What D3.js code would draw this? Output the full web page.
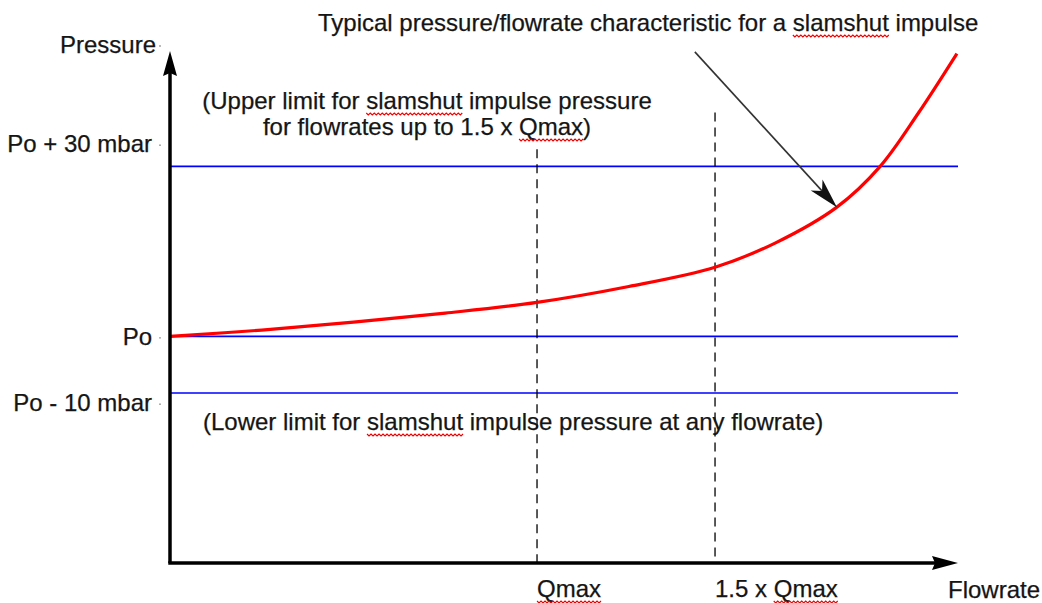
<!DOCTYPE html>
<html>
<head>
<meta charset="utf-8">
<script src="https://cdn.jsdelivr.net/npm/d3@7"></script>
<style>
  body { margin: 0; background: #fff; }
  text { font-family: "Liberation Sans", Arial, sans-serif; font-size: 24px; fill: #151515; stroke: #151515; stroke-width: 0.25px; }
</style>
</head>
<body>
<div id="fig"></div>
<script>
const width = 1042
const height = 603

// flowrate in units of Qmax, pressure in mbar relative to Po
const flow = [0, 0.25, 0.5, 0.75, 1.0, 1.25, 1.485, 1.65, 1.817, 1.935, 2.04, 2.144]
const pressure = [0, 1.1, 2.5, 4.1, 6.0, 8.8, 12.2, 16.5, 22.8, 30, 39.5, 49.9]

const limitValues = [30, 0, -10]
const yLabels = ['Po + 30 mbar', 'Po', 'Po - 10 mbar']
const yLabelValues = [34, 0, -11.7]

const qMarks = [1.0, 1.485]
const qLabels = ['Qmax', '1.5 x Qmax']
const dashTops = [33, 39.5]

const arrowFrom = [1.43, 50.2]
const arrowTo = 8 // index into curve

const x = d3.scaleLinear().domain([0, 2.147]).range([170, 958])
const y = d3.scaleLinear().domain([-40, 50]).range([563, 53])

const svg = d3.select('#fig').append('svg')
    .attr('width', width)
    .attr('height', height)

const x0 = x.range()[0], x1 = x.range()[1]
const y0 = y.range()[0], y1 = y.range()[1]

// blue limit lines
svg.selectAll('.limit')
   .data(limitValues)
   .enter().append('line')
   .attr('class', 'limit')
   .attr('x1', x0).attr('x2', x1)
   .attr('y1', d => y(d)).attr('y2', d => y(d))
   .attr('stroke', '#0000ff')
   .attr('stroke-width', 1.6)

// dashed flow markers
svg.selectAll('.qmark')
   .data(qMarks)
   .enter().append('line')
   .attr('x1', d => x(d)).attr('x2', d => x(d))
   .attr('y1', (d, i) => y(dashTops[i])).attr('y2', y0)
   .attr('stroke', '#000')
   .attr('stroke-width', 1.3)
   .attr('stroke-dasharray', '9,6')

// characteristic curve
const line = d3.line()
    .x((d, i) => x(flow[i]))
    .y(d => y(d))
    .curve(d3.curveCatmullRom)

svg.append('path')
   .datum(pressure)
   .attr('d', line)
   .attr('fill', 'none')
   .attr('stroke', '#ff0000')
   .attr('stroke-width', 3.2)

// axes with arrow heads
svg.append('line')
   .attr('x1', x0).attr('x2', x0)
   .attr('y1', y0).attr('y2', y1 + 18)
   .attr('stroke', '#000').attr('stroke-width', 3.5)
svg.append('line')
   .attr('x1', x0 - 1.75).attr('x2', x1 - 18)
   .attr('y1', y0).attr('y2', y0)
   .attr('stroke', '#000').attr('stroke-width', 3.5)

svg.append('path')
   .attr('d', `M${x0},${y1 - 2} L${x0 + 7},${y1 + 23} L${x0},${y1 + 20} L${x0 - 7},${y1 + 23} Z`)
   .attr('fill', '#000')
svg.append('path')
   .attr('d', `M${x1},${y0} L${x1 - 26},${y0 + 7} L${x1 - 23},${y0} L${x1 - 26},${y0 - 7} Z`)
   .attr('fill', '#000')

// y labels
const yAxis = d3.axisLeft(y)
    .tickValues(yLabelValues)
    .tickFormat((d, i) => yLabels[i])
    .tickSize(0)
    .tickPadding(18)

const gy = svg.append('g')
   .attr('transform', `translate(${x0},0)`)
   .call(yAxis)
gy.select('.domain').remove()
gy.selectAll('text')
   .attr('font-size', null)
   .attr('font-family', null)
   .attr('fill', null)
gy.selectAll('.tick').append('circle')
   .attr('cx', -10).attr('cy', 1).attr('r', 0.9).attr('fill', '#999')

// x labels
svg.selectAll('.qlabel')
   .data(qMarks)
   .enter().append('text')
   .attr('class', 'qlabel')
   .attr('x', d => x(d))
   .attr('y', y0 + 34)
   .text((d, i) => qLabels[i])

svg.append('text')
   .attr('x', x0 - 14).attr('y', y1 - 0)
   .attr('text-anchor', 'end')
   .text('Pressure')
svg.append('circle').attr('cx', x0 - 10).attr('cy', y1 - 7).attr('r', 0.9).attr('fill', '#999')

svg.append('text')
   .attr('x', x1 - 10).attr('y', y0 + 35)
   .text('Flowrate')

// annotations
const notes = []
notes.push(svg.append('text').attr('x', 318).attr('y', 31)
   .text('Typical pressure/flowrate characteristic for a slamshut impulse'))
notes.push(svg.append('text').attr('x', 427).attr('y', 109)
   .attr('text-anchor', 'middle')
   .text('(Upper limit for slamshut impulse pressure'))
notes.push(svg.append('text').attr('x', 427).attr('y', 135)
   .attr('text-anchor', 'middle')
   .text('for flowrates up to 1.5 x Qmax)'))
notes.push(svg.append('text').attr('x', 203).attr('y', 430)
   .text('(Lower limit for slamshut impulse pressure at any flowrate)'))

// pointer arrow
const ax0 = x(arrowFrom[0]), ay0 = y(arrowFrom[1])
const ax1 = x(flow[arrowTo]), ay1 = y(pressure[arrowTo])
const len = Math.hypot(ax1 - ax0, ay1 - ay0)
const ux = (ax1 - ax0) / len, uy = (ay1 - ay0) / len
svg.append('line')
   .attr('x1', ax0).attr('y1', ay0)
   .attr('x2', ax1 - ux * 20).attr('y2', ay1 - uy * 20)
   .attr('stroke', '#333').attr('stroke-width', 1.6)
const bx = ax1 - ux * 30, by = ay1 - uy * 30
const nx = ax1 - ux * 22, ny = ay1 - uy * 22
svg.append('path')
   .attr('d', `M${ax1},${ay1} L${bx - uy * 8},${by + ux * 8} L${nx},${ny} L${bx + uy * 8},${by - ux * 8} Z`)
   .attr('fill', '#111')

// red squiggles under words the spell checker flagged
const squiggle = function(node, word) {
    const s = node.textContent
    let idx = s.indexOf(word)
    if (idx < 0) return
    const a = node.getStartPositionOfChar(idx)
    const b = node.getEndPositionOfChar(idx + word.length - 1)
    const yb = a.y + 4
    const pts = []
    for (let px = a.x, k = 0; px <= b.x; px += 2, k++) {
        pts.push([px, yb + (k % 2 ? 2 : 0)])
    }
    svg.append('path')
       .attr('d', d3.line()(pts))
       .attr('fill', 'none')
       .attr('stroke', '#e00')
       .attr('stroke-width', 1.1)
}
notes.forEach(t => { squiggle(t.node(), 'slamshut'); squiggle(t.node(), 'Qmax') })
svg.selectAll('.qlabel').each(function() { squiggle(this, 'Qmax') })
</script>
</body>
</html>
